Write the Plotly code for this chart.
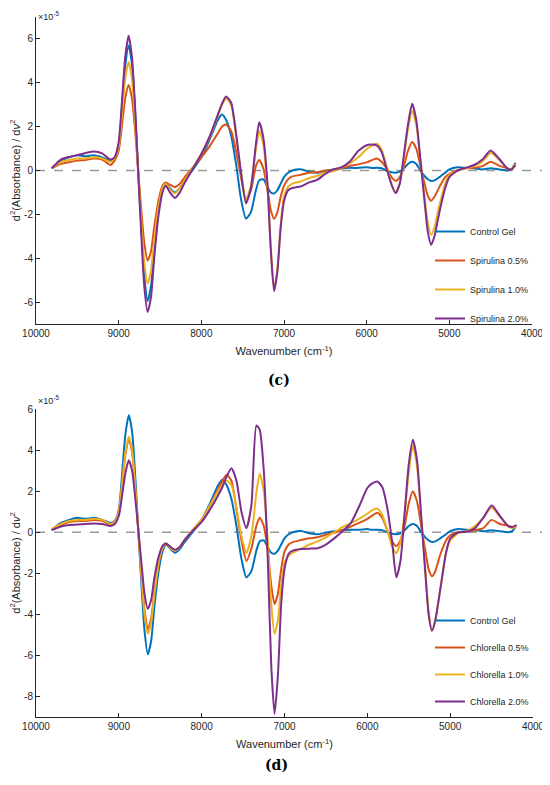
import plotly.graph_objects as go

# wavenumber grid (cm^-1)
wavenumber = [9810, 9700, 9600, 9500, 9400, 9300, 9200, 9100, 9050, 9000,
              8950, 8920, 8880, 8840, 8800, 8760, 8720, 8690, 8650, 8610,
              8570, 8520, 8470, 8430, 8380, 8320, 8260, 8200, 8100, 8000,
              7900, 7800, 7750, 7700, 7640, 7580, 7520, 7460, 7400, 7340,
              7300, 7250, 7200, 7160, 7120, 7080, 7040, 7000, 6950, 6900,
              6800, 6700, 6600, 6500, 6400, 6300, 6200, 6100, 6000, 5950,
              5880, 5820, 5760, 5700, 5650, 5600, 5550, 5500, 5450, 5400,
              5350, 5300, 5260, 5220, 5180, 5120, 5050, 5000, 4900, 4800,
              4700, 4600, 4500, 4400, 4300, 4250, 4200]

# second derivative values, in units of 1e-5
control_gel = [0.1, 0.45, 0.6, 0.7, 0.65, 0.7, 0.6, 0.45, 0.55, 1.1,
               3.4, 4.8, 5.7, 4.9, 2.6, -0.3, -3.0, -4.8, -5.95, -5.3,
               -3.6, -1.9, -0.9, -0.6, -0.8, -1.0, -0.8, -0.45, 0.05, 0.6,
               1.4, 2.3, 2.55, 2.3, 1.6, 0.3, -1.3, -2.2, -1.9, -0.9,
               -0.45, -0.4, -0.75, -1.0, -1.05, -0.9, -0.6, -0.3, -0.1, 0.0,
               0.06, -0.05, -0.1, -0.02, 0.05, 0.1, 0.12, 0.12, 0.15, 0.12,
               0.12, 0.1, 0.0, -0.08, -0.1, -0.05, 0.1, 0.3, 0.4, 0.3,
               0.0, -0.25, -0.4, -0.48, -0.45, -0.3, -0.1, 0.05, 0.15, 0.12,
               0.1, 0.05, 0.1, 0.05, 0.0, 0.05, 0.35]

spirulina_05 = [0.1, 0.3, 0.38, 0.45, 0.48, 0.55, 0.5, 0.25, 0.45, 0.9,
                2.4, 3.3, 3.9, 3.3, 1.8, -0.2, -2.1, -3.3, -4.1, -3.7,
                -2.6, -1.4, -0.7, -0.55, -0.65, -0.75, -0.6, -0.3, 0.15, 0.6,
                1.1, 1.7, 2.0, 2.1, 1.8, 0.9, -0.3, -1.35, -0.9, 0.2,
                0.48, 0.1, -0.9, -1.8, -2.2, -1.9, -1.2, -0.7, -0.4, -0.27,
                -0.2, -0.1, -0.08, 0.0, 0.0, 0.1, 0.21, 0.28, 0.37, 0.45,
                0.55, 0.4, 0.1, -0.3, -0.47, -0.3, 0.2, 0.9, 1.3, 1.0,
                0.2, -0.6, -1.15, -1.38, -1.2, -0.75, -0.3, -0.15, 0.0, 0.1,
                0.12, 0.2, 0.4, 0.22, 0.1, 0.05, 0.3]

spirulina_10 = [0.1, 0.38, 0.48, 0.55, 0.55, 0.6, 0.55, 0.4, 0.55, 1.1,
                3.0, 4.2, 4.95, 4.2, 2.2, -0.3, -2.7, -4.2, -5.15, -4.6,
                -3.2, -1.7, -0.8, -0.6, -0.85, -1.05, -0.8, -0.45, 0.15, 0.75,
                1.5, 2.5, 3.0, 3.3, 3.0, 1.6, -0.1, -1.3, -0.7, 1.0,
                1.8, 1.2, -0.8, -3.5, -5.4, -4.5, -2.5, -1.2, -0.75, -0.6,
                -0.5, -0.35, -0.25, -0.1, -0.02, 0.15, 0.34, 0.6, 0.98, 1.1,
                1.22, 0.95, 0.2, -0.6, -1.0, -0.6, 0.6, 1.9, 2.7, 2.1,
                0.5, -1.2, -2.4, -2.93, -2.6, -1.6, -0.6, -0.2, 0.0, 0.1,
                0.2, 0.4, 0.8, 0.5, 0.1, 0.05, 0.3]

spirulina_20 = [0.1, 0.5, 0.62, 0.7, 0.8, 0.87, 0.78, 0.5, 0.6, 1.3,
                3.7, 5.2, 6.15, 5.2, 2.8, -0.4, -3.4, -5.3, -6.45, -5.8,
                -4.0, -2.1, -1.0, -0.7, -1.0, -1.25, -1.0, -0.55, 0.1, 0.75,
                1.55, 2.55, 3.05, 3.37, 3.1, 1.7, -0.1, -1.5, -0.8, 1.2,
                2.2, 1.5, -0.6, -3.6, -5.5, -4.6, -2.6, -1.4, -0.9, -0.8,
                -0.73, -0.55, -0.43, -0.15, 0.05, 0.15, 0.42, 0.9, 1.15, 1.18,
                1.15, 0.85, 0.1, -0.65, -1.03, -0.6, 0.7, 2.1, 3.04, 2.3,
                0.5, -1.4, -2.8, -3.39, -3.0, -1.9, -0.8, -0.3, 0.0, 0.12,
                0.25, 0.5, 0.91, 0.55, 0.1, 0.05, 0.25]

chlorella_05 = [0.15, 0.35, 0.5, 0.55, 0.55, 0.6, 0.55, 0.35, 0.5, 1.0,
                2.7, 3.8, 4.55, 3.9, 2.1, -0.2, -2.4, -3.8, -4.75, -4.2,
                -2.9, -1.5, -0.75, -0.55, -0.75, -0.9, -0.7, -0.35, 0.15, 0.6,
                1.3, 2.1, 2.5, 2.8, 2.5, 1.1, -0.4, -1.4, -0.8, 0.3,
                0.7, 0.3, -1.0, -2.6, -3.5, -3.0, -1.8, -0.95, -0.6, -0.48,
                -0.38, -0.3, -0.25, -0.12, -0.03, 0.1, 0.27, 0.45, 0.65, 0.78,
                0.95, 0.7, 0.1, -0.45, -0.67, -0.4, 0.3, 1.4, 2.0, 1.5,
                0.3, -0.9, -1.8, -2.15, -1.9, -1.1, -0.4, -0.15, 0.0, 0.05,
                0.1, 0.2, 0.6, 0.4, 0.32, 0.25, 0.3]

chlorella_10 = [0.15, 0.4, 0.55, 0.6, 0.6, 0.65, 0.6, 0.4, 0.5, 1.0,
                2.8, 3.9, 4.65, 4.0, 2.1, -0.2, -2.5, -4.0, -4.95, -4.4,
                -3.0, -1.5, -0.75, -0.55, -0.75, -0.9, -0.7, -0.35, 0.15, 0.6,
                1.3, 2.0, 2.3, 2.5, 2.3, 1.2, -0.2, -1.0, -0.2, 1.9,
                2.85, 2.0, -0.5, -3.5, -4.95, -4.3, -2.6, -1.5, -1.15, -1.0,
                -0.8, -0.6, -0.45, -0.25, 0.0, 0.25, 0.44, 0.65, 0.9, 1.05,
                1.15, 0.85, 0.1, -0.7, -1.02, -0.5, 0.9, 2.9, 4.25, 3.2,
                0.8, -1.8, -3.9, -4.79, -4.3, -2.8, -1.0, -0.4, -0.05, 0.05,
                0.3, 0.7, 1.2, 0.75, 0.3, 0.2, 0.3]

chlorella_20 = [0.1, 0.28, 0.35, 0.38, 0.4, 0.42, 0.4, 0.3, 0.4, 0.8,
                2.1, 2.9, 3.5, 3.0, 1.6, -0.1, -1.8, -3.0, -3.73, -3.3,
                -2.2, -1.2, -0.65, -0.55, -0.7, -0.85, -0.7, -0.35, 0.1, 0.5,
                1.1, 1.8, 2.2, 2.7, 3.12, 2.5, 1.0, 0.2, 1.3, 5.2,
                5.0, 3.0, -1.5, -6.5, -8.85, -7.0, -3.5, -1.8, -1.05, -0.9,
                -0.82, -0.8, -0.78, -0.6, -0.3, 0.05, 0.44, 1.25, 2.15, 2.35,
                2.47, 2.2, 1.2, -0.5, -2.2, -1.4, 0.9, 3.3, 4.5, 3.5,
                0.8, -2.0, -4.0, -4.8, -4.3, -2.8, -1.0, -0.3, 0.0, 0.02,
                0.2, 0.7, 1.3, 0.8, 0.3, 0.25, 0.35]

names_c = ["Control Gel", "Spirulina 0.5%", "Spirulina 1.0%", "Spirulina 2.0%"]
names_d = ["Control Gel", "Chlorella 0.5%", "Chlorella 1.0%", "Chlorella 2.0%"]
series_c = [control_gel, spirulina_05, spirulina_10, spirulina_20]
series_d = [control_gel, chlorella_05, chlorella_10, chlorella_20]
colors = ["#0072BD", "#D95319", "#EDB120", "#7E2F8E"]

x_ticks = [10000, 9000, 8000, 7000, 6000, 5000, 4000]
y_ticks_c = [-6, -4, -2, 0, 2, 4, 6]
y_ticks_d = [-8, -6, -4, -2, 0, 2, 4, 6]

# the page body adds an 8px margin, so the figure is 8px smaller than the window
OFF = 8
W, H = 550 - OFF, 785 - OFF
TXT = "#262626"
FONT = "Liberation Sans, Arial, sans-serif"

fig = go.Figure()

for i, (nm, ys) in enumerate(zip(names_c, series_c)):
    fig.add_trace(go.Scatter(x=wavenumber, y=ys, mode="lines", name=nm,
                             line=dict(color=colors[i], width=2, shape="spline", smoothing=0.6),
                             xaxis="x", yaxis="y", legend="legend", legendgroup="c%d" % i))
for i, (nm, ys) in enumerate(zip(names_d, series_d)):
    fig.add_trace(go.Scatter(x=wavenumber, y=ys, mode="lines", name=nm,
                             line=dict(color=colors[i], width=2, shape="spline", smoothing=0.6),
                             xaxis="x2", yaxis="y2", legend="legend2", legendgroup="d%d" % i))

def px_x(p):
    return (p - OFF) / W

def px_y(p):
    return 1 - (p - OFF) / H

axis_common = dict(showgrid=False, zeroline=False, showline=True, linecolor=TXT, linewidth=1,
                   ticks="inside", ticklen=4, tickcolor=TXT, tickfont=dict(size=10, color=TXT, family=FONT),
                   automargin=False, mirror=False)

ytitle = "d<sup>2</sup>(Absorbance) / d<i>ν</i><sup>2</sup>"
xtitle = "Wavenumber (cm<sup>-1</sup>)"

fig.update_layout(
    width=W, height=H, paper_bgcolor="white", plot_bgcolor="white",
    margin=dict(l=0, r=0, t=0, b=0),
    font=dict(family=FONT, color=TXT),
    xaxis=dict(domain=[px_x(36), px_x(532)], anchor="y", range=[10000, 4000],
               tickvals=x_ticks, ticktext=[str(v) for v in x_ticks],
               title=dict(text=xtitle, font=dict(size=11, color=TXT), standoff=9),
               **axis_common),
    yaxis=dict(domain=[px_y(324), px_y(17)], anchor="x", range=[-7, 7],
               tickvals=y_ticks_c, ticktext=[str(v) for v in y_ticks_c],
               title=dict(text=ytitle, font=dict(size=11, color=TXT), standoff=5),
               **axis_common),
    xaxis2=dict(domain=[px_x(36), px_x(533)], anchor="y2", range=[10000, 4000],
                tickvals=x_ticks, ticktext=[str(v) for v in x_ticks],
                title=dict(text=xtitle, font=dict(size=11, color=TXT), standoff=9),
                **axis_common),
    yaxis2=dict(domain=[px_y(717), px_y(409)], anchor="x2", range=[-9, 6],
                tickvals=y_ticks_d, ticktext=[str(v) for v in y_ticks_d],
                title=dict(text=ytitle, font=dict(size=11, color=TXT), standoff=5),
                **axis_common),
    legend=dict(x=px_x(430), y=px_y(217), xanchor="left", yanchor="top", bgcolor="rgba(0,0,0,0)",
                font=dict(size=9, color=TXT, family=FONT), tracegroupgap=10, borderwidth=0),
    legend2=dict(x=px_x(430), y=px_y(606), xanchor="left", yanchor="top", bgcolor="rgba(0,0,0,0)",
                 font=dict(size=9, color=TXT, family=FONT), tracegroupgap=8, borderwidth=0),
    shapes=[
        dict(type="line", xref="x domain", yref="y", x0=0, x1=1.02, y0=0, y1=0,
             line=dict(color="#9a9a9a", width=1.5, dash="dash"), layer="below"),
        dict(type="line", xref="x2 domain", yref="y2", x0=0, x1=1.02, y0=0, y1=0,
             line=dict(color="#9a9a9a", width=1.5, dash="dash"), layer="below"),
    ],
    annotations=[
        dict(text="×10<sup>-5</sup>", x=px_x(36), y=1, xref="paper", yref="paper",
             xanchor="left", yanchor="top", showarrow=False, font=dict(size=9, color=TXT)),
        dict(text="×10<sup>-5</sup>", x=px_x(36), y=px_y(408), xref="paper", yref="paper",
             xanchor="left", yanchor="bottom", showarrow=False, font=dict(size=9, color=TXT)),
        dict(text="<b>(c)</b>", x=px_x(279), y=px_y(380), xref="paper", yref="paper",
             xanchor="center", yanchor="middle", showarrow=False,
             font=dict(size=14, color="black", family="DejaVu Serif, Liberation Serif, serif")),
        dict(text="<b>(d)</b>", x=px_x(276), y=px_y(765), xref="paper", yref="paper",
             xanchor="center", yanchor="middle", showarrow=False,
             font=dict(size=14, color="black", family="DejaVu Serif, Liberation Serif, serif")),
    ],
)

fig.write_html("out.html")
